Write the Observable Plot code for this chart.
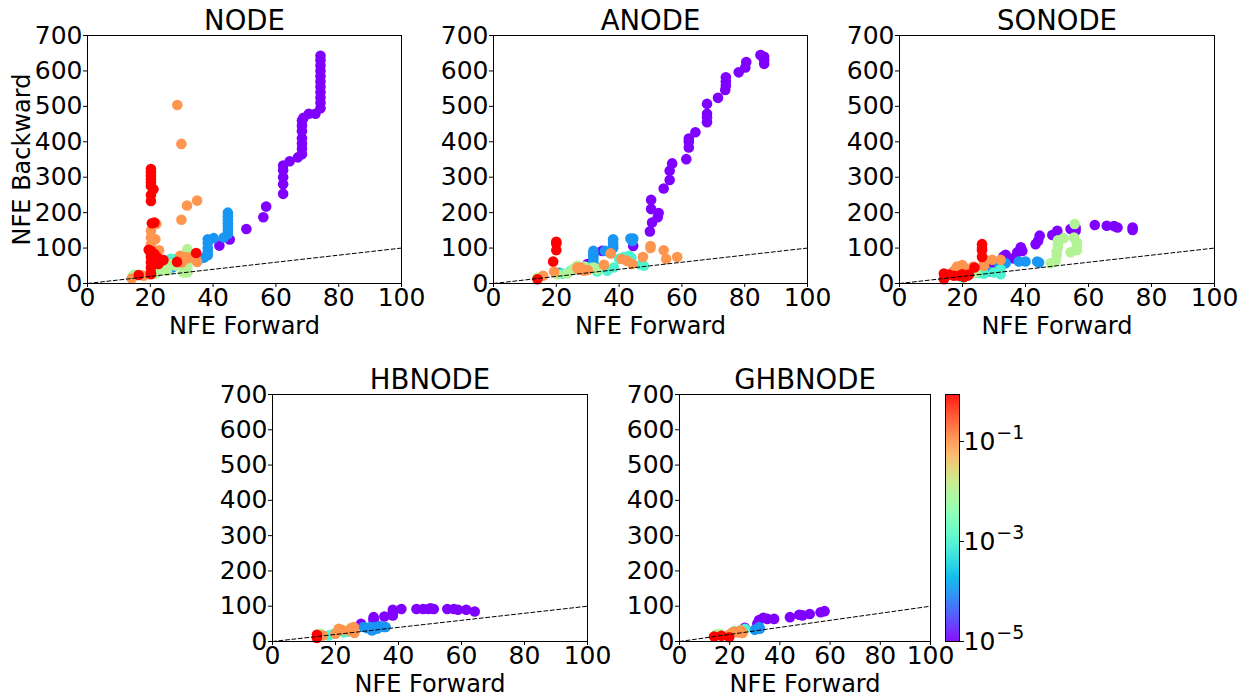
<!DOCTYPE html>
<html><head><meta charset="utf-8">
<script src="https://cdn.jsdelivr.net/npm/d3@7"></script>
<script src="https://cdn.jsdelivr.net/npm/@observablehq/plot@0.6"></script>
<style>
html,body{margin:0;padding:0;background:#fff;}
#fig{position:relative;width:1247px;height:698px;overflow:hidden;font-family:"DejaVu Sans";}
#fig svg{position:absolute;overflow:visible;}
</style></head><body><div id="fig"></div>
<script>
const models = ["NODE", "ANODE", "SONODE", "HBNODE", "GHBNODE"];
const xTicks = [0, 20, 40, 60, 80, 100];
const yTicks = [0, 100, 200, 300, 400, 500, 600, 700];
const colorbarTickExponents = [-5, -3, -1];
const diagonal = [0, 100];
const xLabel = "NFE Forward";
const yLabel = "NFE Backward";

// each point: [log10 tolerance, NFE forward, NFE backward]
const nodePoints = [
  [-5,74.2,643],[-5,74.2,630],[-5,74.2,615],[-5,74.2,600],[-5,74.2,585],[-5,74.2,570],[-5,74.2,555],[-5,74.2,540],[-5,74.2,525],[-5,74.2,510],[-5,74.2,495],[-5,72.6,479],[-5,70.5,479],[-5,68.8,468],[-5,68.3,460],[-5,68.3,445],[-5,68.3,430],[-5,68.3,410],[-5,68.3,395],[-5,68.3,380],[-5,68.3,365],[-5,67,356],[-5,64.4,345],[-5,62.3,333],[-5,62.3,320],[-5,62.3,300],[-5,62.3,280],[-5,62.3,253],[-5,56.9,217],[-5,56,187],[-5,50.6,154],[-5,45.3,124],[-5,42,107],
  [-4,44.7,200],[-4,44.7,190],[-4,44.7,180],[-4,44.7,170],[-4,44.7,160],[-4,44.7,150],[-4,44.7,140],[-4,43.4,130],[-4,40.2,128],[-4,38.3,125],[-4,38.3,115],[-4,38.3,100],[-4,38.3,90],[-4,38.3,80],[-4,37,73],[-4,36,71],[-4,25.4,43],[-4,27,45],
  [-3,26.4,70],[-3,27.5,68],[-3,25,60],
  [-2,31.8,97],[-2,31.8,88],[-2,31.8,75],[-2,31.8,60],[-2,31.8,45],[-2,31.8,31],[-2,30.5,31],[-2,28,51],[-2,26.9,55],[-2,25.4,43],[-2,25.3,36],[-2,23.2,51],[-2,22.2,32],[-2,21.6,28],[-2,15,25],[-2,14.5,22],[-2,17,24],
  [-1,28.6,504],[-1,29.9,394],[-1,34.9,234],[-1,31.7,220],[-1,29.9,180],[-1,21.9,168],[-1,20.2,149],[-1,20.2,130],[-1,21.6,125],[-1,20.2,110],[-1,20.2,100],[-1,22.8,94],[-1,29.5,78],[-1,31.1,69],[-1,32.7,73],[-1,34.9,61],[-1,30,59],[-1,14.1,14],[-1,17.9,22],[-1,21,80],[-1,22,62],[-1,20.3,90],[-1,31.2,75],[-1,34.4,70],
  [0,20.2,323],[0,20.2,315],[0,20.2,305],[0,20.2,295],[0,20.2,285],[0,20.2,275],[0,21,266],[0,20.2,250],[0,20.2,233],[0,21.3,172],[0,20.5,170],[0,20.2,92],[0,21.3,83],[0,20.2,85],[0,20.2,75],[0,22.3,73],[0,20.2,60],[0,24.2,66],[0,22.6,55],[0,20.2,45],[0,20.2,30],[0,28.5,61],[0,34.6,86],[0,16.3,24],[0,20.2,26],[0,19.5,95]
];
const anodePoints = [
  [-5,85,645],[-5,86.2,640],[-5,86.2,630],[-5,86.2,620],[-5,80.5,625],[-5,80.2,610],[-5,78.1,596],[-5,74,582],[-5,74,570],[-5,74,559],[-5,73.8,546],[-5,71.5,524],[-5,68,507],[-5,68,479],[-5,68,469],[-5,68,455],[-5,64.3,427],[-5,62.2,409],[-5,62.2,400],[-5,62.2,384],[-5,61.4,351],[-5,56.9,339],[-5,56.1,318],[-5,56.1,292],[-5,54.2,268],[-5,52.6,199],[-5,52.3,187],[-5,50.2,236],[-5,50.2,210],[-5,50.5,172],[-5,49.8,147],[-5,44.5,106],[-5,34.6,92],[-5,29.9,55],
  [-4,31.8,92],[-4,31.8,85],[-4,31.8,78],[-4,31.8,70],[-4,31.8,60],[-4,31.8,52],[-4,35.5,92],[-4,38.1,125],[-4,38.1,115],[-4,38.1,108],[-4,38.1,100],[-4,43.6,127],[-4,44.5,127],[-4,44.2,120],[-4,21,30],
  [-3,41.5,75],[-3,43.1,78],[-3,43.9,73],[-3,38.3,45],[-3,33,34],[-3,36.2,36],[-3,46.8,53],[-3,47.9,50],[-3,24.6,36],[-3,22,28],[-3,31,45],[-3,40,70],
  [-2,26.7,50],[-2,32,45],[-2,20.3,26],[-2,14,17],[-2,23.5,28],[-2,25.5,42],[-2,29,48],[-2,33,40],
  [-1,37.3,85],[-1,50,106],[-1,50,100],[-1,54.2,94],[-1,55,69],[-1,58.5,75],[-1,47.6,75],[-1,35.2,53],[-1,40.8,69],[-1,42.5,64],[-1,44.2,55],[-1,27.8,45],[-1,28.8,36],[-1,26.7,45],[-1,19.3,34],[-1,15.8,22],[-1,27,40],[-1,30,38],
  [0,20,118],[0,20,113],[0,20,94],[0,19,62],[0,14,12]
];
const sonodePoints = [
  [-5,74,158],[-5,74,151],[-5,69.2,158],[-5,68.1,162],[-5,65.8,163],[-5,62,165],[-5,55.9,158],[-5,55.9,149],[-5,54.3,154],[-5,50.1,149],[-5,50.1,139],[-5,48.5,137],[-5,44.5,135],[-5,44,121],[-5,43.2,111],[-5,38.5,102],[-5,39,92],[-5,37.4,88],[-5,36.1,71],[-5,33.7,81],[-5,30,50],[-5,33,76],
  [-4,44.3,59],[-4,43.7,62],[-4,40,62],[-4,37.9,62],[-4,33.7,57],[-4,31.6,55],[-4,27.3,40],[-4,28.4,34],[-4,26.5,45],
  [-3,32.1,40],[-3,32.1,26],[-3,30,31],[-3,26.8,28],[-3,20,17],[-3,25,30],
  [-2,55.6,168],[-2,55.4,130],[-2,56.3,116],[-2,56.3,105],[-2,56.3,94],[-2,54.3,88],[-2,52.1,128],[-2,50.3,122],[-2,50.3,110],[-2,50.3,102],[-2,49.9,90],[-2,49.9,78],[-2,49.6,64],[-2,48,57],[-2,24.2,31],
  [-1,32.1,67],[-1,29.4,67],[-1,26.8,69],[-1,26.8,58],[-1,26.8,50],[-1,23.4,48],[-1,19.9,52],[-1,18.3,48],[-1,17.3,36],[-1,21.5,38],[-1,20.5,45],[-1,22,30],
  [0,26.2,111],[0,26.2,100],[0,26.2,94],[0,26.2,75],[0,23.8,45],[0,14.1,12],[0,14.1,28],[0,14.5,22],[0,15.7,25],[0,17.3,22],[0,18.9,22],[0,21.5,22],[0,19.9,26],[0,20.5,18],[0,22,25]
];
const hbnodePoints = [
  [-5,64.2,85],[-5,61.5,90],[-5,58.9,90],[-5,57.6,92],[-5,55.5,92],[-5,51.2,92],[-5,50.2,94],[-5,49.5,92],[-5,47.8,92],[-5,45.7,92],[-5,40.9,92],[-5,38.2,90],[-5,38.2,82],[-5,38.2,74],[-5,35.5,71],[-5,32.1,69],[-5,32.1,64],[-5,32.1,59],[-5,28.1,50],
  [-4,28.9,41],[-4,31.6,31],[-4,33.2,36],[-4,35.3,41],[-4,35.9,41],[-4,31,41],[-4,30,38],[-4,34,44],[-4,32.5,40],
  [-3,17.8,17],[-3,19.4,22],[-3,22.6,26],[-3,24,28],
  [-2,15.2,22],
  [-1,21,36],[-1,20,22],[-1,24.2,31],[-1,25.8,41],[-1,26,24],[-1,16,17],[-1,22,33],[-1,25,38],
  [0,14.1,19],[0,14.1,10]
];
const ghbnodePoints = [
  [-5,57.8,86],[-5,56.2,83],[-5,51.9,78],[-5,49,74],[-5,47.7,76],[-5,44,69],[-5,37.7,64],[-5,35,64],[-5,33.4,67],[-5,31.7,61],[-5,31,50],[-5,26,39],
  [-4,31.7,41],[-4,30,33],[-4,32,36],
  [-3,26.1,36],[-3,21.8,29],[-3,24,30],
  [-2,14.5,20],[-2,16,22],
  [-1,21.1,26],[-1,23.1,26],[-1,25.1,24],[-1,19.8,20],[-1,24.4,31],[-1,22,28],
  [0,13.8,14],[0,16.7,16],[0,19.8,12]
];

// matplotlib "rainbow" colormap
function rainbow(t) {
  const r = Math.min(1, Math.abs(2 * t - 0.5));
  const g = Math.max(0, Math.sin(Math.PI * t));
  const b = Math.max(0, Math.cos(Math.PI * t / 2));
  return `rgb(${Math.round(r * 255)},${Math.round(g * 255)},${Math.round(b * 255)})`;
}
const colorScale = {type: "log", domain: [1e-5, 1], interpolate: rainbow};
const FONT = "DejaVu Sans";
const TICK_FS = 25;
const fig = document.getElementById("fig");

const layout = [
  {name: models[0], pts: nodePoints, L: 87, T: 35, R: 401, B: 283, ylab: true},
  {name: models[1], pts: anodePoints, L: 493, T: 35, R: 807, B: 283},
  {name: models[2], pts: sonodePoints, L: 899, T: 35, R: 1214, B: 283},
  {name: models[3], pts: hbnodePoints, L: 272, T: 394, R: 587, B: 641},
  {name: models[4], pts: ghbnodePoints, L: 679, T: 394, R: 930, B: 641}
];

for (const p of layout) {
  const data = p.pts.map(([k, f, b]) => ({tol: 10 ** k, f, b, k}))
    .sort((a, c) => a.k - c.k);
  const mL = 80, mR = 30, mT = 45, mB = 60;
  const marks = [
    Plot.dot(data, {x: "f", y: "b", fill: "tol", r: 5.3}),
    Plot.line(diagonal, {x: d => d, y: d => d, stroke: "black", strokeWidth: 1, strokeDasharray: "4,2.5"}),
    Plot.frame({stroke: "black", strokeWidth: 1}),
    Plot.axisX({ticks: xTicks, tickSize: 4, tickPadding: 1, label: null, fontSize: TICK_FS}),
    Plot.axisY({ticks: yTicks, tickSize: 4, tickPadding: 1, label: null, fontSize: TICK_FS}),
    Plot.text([p.name], {text: d => d, frameAnchor: "top", lineAnchor: "bottom", dy: -6, fontSize: 27.5}),
    Plot.text([xLabel], {text: d => d, frameAnchor: "bottom", lineAnchor: "bottom", dy: 50, fontSize: 24})
  ];
  if (p.ylab) marks.push(Plot.text([yLabel], {text: d => d, frameAnchor: "left", textAnchor: "middle", rotate: -90, dx: -65.5, fontSize: 24}));
  const svg = Plot.plot({
    width: p.R - p.L + mL + mR, height: p.B - p.T + mT + mB,
    marginLeft: mL, marginRight: mR, marginTop: mT, marginBottom: mB,
    style: {fontFamily: FONT, fontSize: TICK_FS + "px", overflow: "visible", background: "transparent", color: "black"},
    x: {domain: [0, 100]}, y: {domain: [0, 700]},
    color: colorScale,
    marks
  });
  svg.style.left = (p.L - mL) + "px";
  svg.style.top = (p.T - mT) + "px";
  fig.appendChild(svg);
}

// colorbar
{
  const L = 945, T = 394, R = 959, B = 641;
  const mL = 10, mR = 90, mT = 10, mB = 10;
  const step = 0.01;
  const stops = d3.range(-5, -0.06, step);
  const svg = Plot.plot({
    width: R - L + mL + mR, height: B - T + mT + mB,
    marginLeft: mL, marginRight: mR, marginTop: mT, marginBottom: mB,
    style: {fontFamily: FONT, fontSize: "25px", overflow: "visible", background: "transparent", color: "black"},
    x: {domain: [0, 1], axis: null},
    y: {domain: [-5, -0.06], axis: null},
    color: colorScale,
    marks: [
      Plot.rect(stops, {x1: () => 0, x2: () => 1, y1: d => d, y2: d => Math.min(-0.06, d + step * 1.6), fill: d => 10 ** (d + step / 2)}),
      Plot.frame({stroke: "black", strokeWidth: 1}),
      Plot.axisY({anchor: "right", ticks: colorbarTickExponents, tickSize: 4, tickPadding: 0, label: null, fontSize: 25, tickFormat: k => "10^" + k})
    ]
  });
  svg.style.left = (L - mL) + "px";
  svg.style.top = (T - mT) + "px";
  fig.appendChild(svg);
  svg.querySelectorAll("text").forEach(el => {
    const s = el.textContent;
    if (s.startsWith("10^")) {
      const exp = s.slice(3).replace("-", "\u2212");
      el.textContent = "";
      const base = document.createElementNS("http://www.w3.org/2000/svg", "tspan");
      base.textContent = "10";
      const sup = document.createElementNS("http://www.w3.org/2000/svg", "tspan");
      sup.textContent = exp;
      sup.setAttribute("font-size", "19px");
      sup.setAttribute("dy", "-11");
      sup.setAttribute("dx", "1");
      el.appendChild(base);
      el.appendChild(sup);
    }
  });
}
</script></body></html>
